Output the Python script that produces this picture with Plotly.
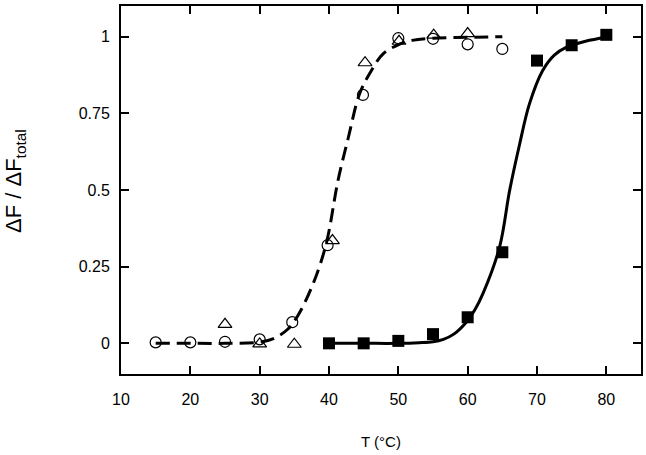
import plotly.graph_objects as go

# Data
circ_T = [15, 20, 25, 30, 34.7, 39.8, 44.9, 50, 55, 60, 65]
circ_F = [0.003, 0.003, 0.005, 0.013, 0.069, 0.32, 0.81, 0.995, 0.993, 0.975, 0.96]

tri_T = [25, 30, 35, 40.5, 45.2, 50.1, 55.1, 60]
tri_F = [0.062, -0.002, -0.003, 0.335, 0.915, 0.985, 1.005, 1.01]

sq_T = [40, 45, 50, 55, 60, 65, 70, 75, 80]
sq_F = [0.0, 0.0, 0.008, 0.03, 0.085, 0.297, 0.922, 0.972, 1.006]

# Fitted curves
dash_T = [15, 20, 25, 30, 32, 34, 35.5, 37.7, 39.6, 41.3, 42.8, 44.4, 46.1, 47.8, 50.2, 52, 55, 60, 65]
dash_F = [0.0, 0.0, 0.0, 0.004, 0.015, 0.045, 0.09, 0.194, 0.325, 0.531, 0.672, 0.813, 0.889, 0.944, 0.976, 0.988, 0.995, 0.998, 1.0]

solid_T = [40, 45, 50, 53, 55, 56.5, 58, 59.8, 61, 62.2, 64.6, 66.05, 67.5, 68.9, 70.8, 72.5, 74.2, 77, 80]
solid_F = [0.0, 0.0, 0.0, 0.002, 0.005, 0.013, 0.03, 0.069, 0.108, 0.162, 0.314, 0.498, 0.65, 0.78, 0.889, 0.94, 0.965, 0.985, 0.998]

x_ticks = [10, 20, 30, 40, 50, 60, 70, 80]
y_ticks = [0, 0.25, 0.5, 0.75, 1]
y_tick_text = ["0", "0.25", "0.5", "0.75", "1"]

FONT = "Liberation Sans, Arial, sans-serif"

fig = go.Figure()
fig.add_trace(go.Scatter(x=dash_T, y=dash_F, mode="lines", line_shape="spline",
                         line=dict(color="black", width=3, dash="14px,7px"), showlegend=False))
fig.add_trace(go.Scatter(x=solid_T, y=solid_F, mode="lines", line_shape="spline",
                         line=dict(color="black", width=3), showlegend=False))
fig.add_trace(go.Scatter(x=circ_T, y=circ_F, mode="markers",
                         marker=dict(symbol="circle-open", size=11, color="black", line=dict(width=1.2)),
                         showlegend=False))
fig.add_trace(go.Scatter(x=tri_T, y=tri_F, mode="markers",
                         marker=dict(symbol="triangle-up-open", size=12, color="black", line=dict(width=1.2)),
                         showlegend=False))
fig.add_trace(go.Scatter(x=sq_T, y=sq_F, mode="markers",
                         marker=dict(symbol="square", size=12, color="black"),
                         showlegend=False))

axis_common = dict(showline=True, linecolor="black", linewidth=2, mirror="ticks",
                   ticks="inside", ticklen=8, tickwidth=1.5, tickcolor="black",
                   showgrid=False, zeroline=False,
                   tickfont=dict(family=FONT, size=16, color="black"))

fig.update_xaxes(range=[10, 85], tickvals=x_ticks, ticktext=[str(v) for v in x_ticks],
                 ticklabelstandoff=10,
                 title=dict(text="T (°C)", standoff=29,
                            font=dict(family=FONT, size=15, color="black")),
                 **axis_common)
fig.update_yaxes(range=[-0.1, 1.1], tickvals=y_ticks, ticktext=y_tick_text,
                 ticklabelstandoff=6,
                 **axis_common)

fig.add_annotation(text="ΔF / ΔF<sub>total</sub>", textangle=-90,
                   xref="paper", yref="paper", x=0, y=0.5,
                   xanchor="center", yanchor="middle", xshift=-106, yshift=9,
                   showarrow=False, font=dict(family=FONT, size=22, color="black"))

fig.update_layout(width=646, height=455, margin=dict(l=121, r=3, t=6, b=81),
                  plot_bgcolor="white", paper_bgcolor="white")

fig.write_html("out.html", config={"displayModeBar": False},
               post_script="document.body.style.margin='0';document.body.style.padding='0';")
